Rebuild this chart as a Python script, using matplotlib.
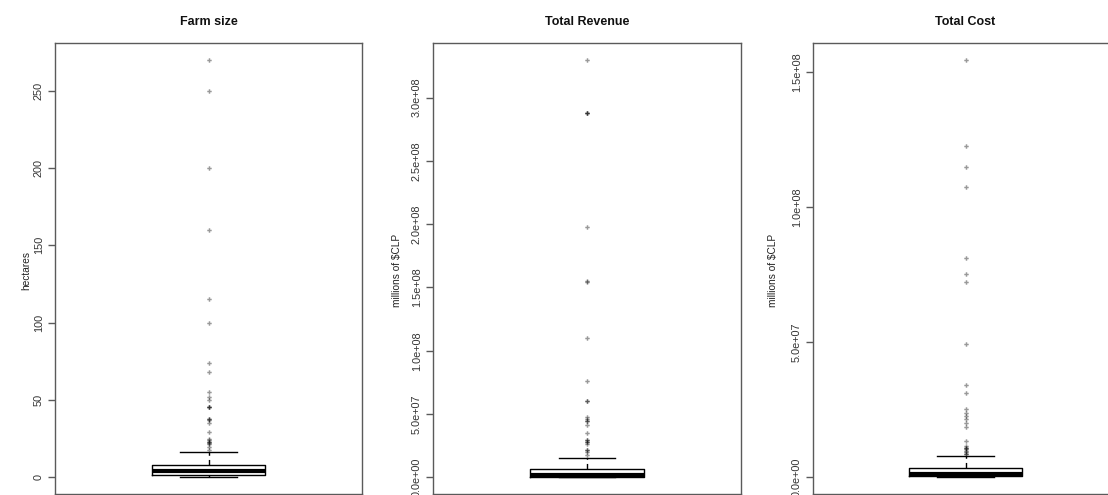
import numpy as np
import matplotlib.pyplot as plt
from matplotlib.ticker import FixedLocator, FuncFormatter

plt.rcParams['font.family'] = ['Liberation Sans', 'DejaVu Sans']

# values
titles = ["Farm size", "Total Revenue", "Total Cost"]
ylabels = ["hectares", "millions of $CLP", "millions of $CLP"]

farm_stats = dict(whislo=0.0, q1=1.5, med=3.9, q3=7.8, whishi=16.6)
farm_fliers = [270, 250, 200, 160, 115, 100, 74, 68, 55, 52, 50, 45.5, 45.5, 45.5,
               38, 38, 37, 35, 29.5, 25, 24, 22.5, 22.5, 22, 21.4, 19.3, 17.8]

rev_stats = dict(whislo=0.0, q1=0.6e6, med=1.8e6, q3=6.9e6, whishi=1.56e7)
rev_fliers = [3.30e8, 2.876e8, 2.876e8, 2.876e8, 1.98e8, 1.55e8, 1.54e8, 1.10e8,
              7.63e7, 6.05e7, 6.05e7, 4.73e7, 4.6e7, 4.45e7, 4.45e7, 4.1e7, 3.54e7,
              2.93e7, 2.93e7, 2.75e7, 2.75e7, 2.6e7, 2.14e7, 2.14e7, 2.0e7, 1.74e7]

cost_stats = dict(whislo=0.0, q1=0.4e6, med=1.1e6, q3=3.6e6, whishi=8.06e6)
cost_fliers = [1.547e8, 1.228e8, 1.150e8, 1.076e8, 8.14e7, 7.53e7, 7.25e7, 4.94e7,
               3.42e7, 3.11e7, 2.52e7, 2.40e7, 2.28e7, 2.15e7, 2.0e7, 1.86e7, 1.33e7,
               1.16e7, 1.10e7, 1.10e7, 1.04e7, 0.98e7, 0.92e7, 0.85e7, 0.85e7]

farm_ticks = [0, 50, 100, 150, 200, 250]
rev_ticks = [0, 5e7, 1e8, 1.5e8, 2e8, 2.5e8, 3e8]
cost_ticks = [0, 5e7, 1e8, 1.5e8]

stats = [farm_stats, rev_stats, cost_stats]
fliers = [farm_fliers, rev_fliers, cost_fliers]
ticks = [farm_ticks, rev_ticks, cost_ticks]


def fmt_label(i):
    if i == 0:
        return lambda v, p: f"{v:g}"
    return lambda v, p: f"{v:.1e}"


W, H = 1108, 495
fig = plt.figure(figsize=(W / 100, H / 100), dpi=100)

# pixel boxes: left, right
lefts = [55, 433, 813]
rights = [362, 741, 1118]
top_px, bot_px = 43, 494
ylab_x = [26, 397, 773]
gray = "#5a5a5a"

for i in range(3):
    l, r = lefts[i], rights[i]
    ax = fig.add_axes([l / W, 1 - bot_px / H, (r - l) / W, (bot_px - top_px) / H])
    s = dict(stats[i])
    s["fliers"] = fliers[i]
    ax.bxp([s], positions=[1], widths=0.37, showfliers=True,
           boxprops=dict(color="black", lw=1),
           medianprops=dict(color="black", lw=3, solid_capstyle="butt"),
           whiskerprops=dict(color="black", lw=1, linestyle=(0, (4, 3))),
           capprops=dict(color="black", lw=1),
           capwidths=0.185,
           flierprops=dict(marker="P", markersize=3.2, markerfacecolor="black",
                           markeredgecolor="none", alpha=0.4))
    data_max = max(fliers[i])
    rng = data_max - 0
    ax.set_ylim(-0.04 * rng, data_max + 0.04 * rng)
    ax.set_xlim(0.5, 1.5)
    ax.set_xticks([])
    ax.yaxis.set_major_locator(FixedLocator(ticks[i]))
    ax.yaxis.set_major_formatter(FuncFormatter(fmt_label(i)))
    ax.tick_params(axis="y", length=5, width=1, color=gray, pad=3,
                   labelsize=7.8, labelcolor="#333333")
    for lab in ax.get_yticklabels():
        lab.set_rotation(90)
        lab.set_va("center")
    for sp in ax.spines.values():
        sp.set_color(gray)
        sp.set_linewidth(1)

    cx = (l + r) / 2
    fig.text(cx / W, 1 - 22 / H, titles[i], ha="center", va="center",
             fontsize=9, fontweight="bold", color="#111111")
    fig.text(ylab_x[i] / W, 1 - 270 / H, ylabels[i], rotation=90,
             ha="center", va="center", fontsize=7.3, color="#222222")

fig.savefig("out.png", dpi=100, facecolor="white")
